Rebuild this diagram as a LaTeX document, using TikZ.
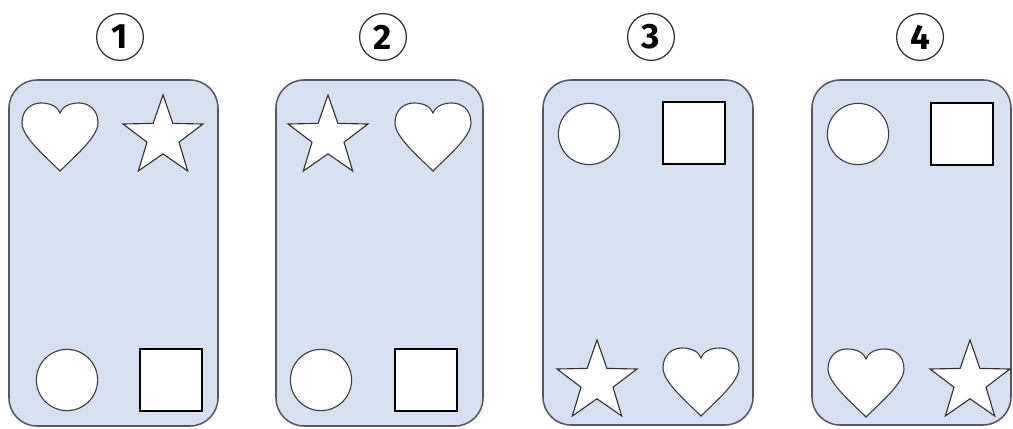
\documentclass[tikz,border=0pt]{standalone}
\usepackage{fontspec}
\setsansfont{Fira Sans}
\usetikzlibrary{shapes.geometric}
\definecolor{cardfill}{RGB}{214,224,240}
\definecolor{cardline}{RGB}{85,88,98}

\begin{document}
\begin{tikzpicture}[x=0.025cm, y=0.025cm, line width=0.8pt,
  card/.style={draw=cardline, fill=cardfill, line width=1.1pt, rounded corners=0.7cm},
  numcirc/.style={circle, draw=black!80, line width=0.9pt, minimum size=1.17cm, inner sep=0pt, font=\sffamily\bfseries\fontsize{25}{25}\selectfont},
  roundshape/.style={circle, draw=black!75, fill=white, minimum size=1.53cm, inner sep=0pt},
  squareshape/.style={rectangle, draw=black, fill=white, line width=1pt, minimum size=1.55cm, inner sep=0pt},
  starshape/.style={star, star points=5, star point ratio=2.5, draw=black!80, fill=white, minimum size=2.1cm, inner sep=0pt},
  heart/.pic={
    \draw[draw=black!75, fill=white] (0,-34) .. controls (-14,-20) and (-38,0) .. (-38,14)
      .. controls (-38,28) and (-28,34) .. (-19,34) .. controls (-9,34) and (-2,30) .. (0,24)
      .. controls (2,30) and (9,34) .. (19,34) .. controls (28,34) and (38,28) .. (38,14)
      .. controls (38,0) and (14,-20) .. (0,-34) -- cycle;
  }]
  \useasboundingbox (0,0) rectangle (1013,428);
  % cards
  \draw[card] (9,2) rectangle (218,348);
  \draw[card] (276,2) rectangle (483,348);
  \draw[card] (543,3) rectangle (753,348);
  \draw[card] (812,3) rectangle (1011,348);
  % numbers
  \node[numcirc] (n1) at (120,391) {1};
  \node[numcirc] (n2) at (383,391) {2};
  \node[numcirc] (n3) at (651,391) {3};
  \node[numcirc] (n4) at (920,391) {4};
  % card 1
  \pic (h1) at (60,291) {heart};
  \node[starshape] (s1) at (163,291) {};
  \node[roundshape] (c1) at (67,48) {};
  \node[squareshape] (q1) at (171,48) {};
  % card 2
  \node[starshape] (s2) at (328,291) {};
  \pic (h2) at (433,291) {heart};
  \node[roundshape] (c2) at (321,48) {};
  \node[squareshape] (q2) at (426,48) {};
  % card 3
  \node[roundshape] (c3) at (589,294) {};
  \node[squareshape] (q3) at (694,295) {};
  \node[starshape] (s3) at (597,46) {};
  \pic (h3) at (701,46) {heart};
  % card 4
  \node[roundshape] (c4) at (858,294) {};
  \node[squareshape] (q4) at (962,294) {};
  \pic (h4) at (866,45) {heart};
  \node[starshape] (s4) at (970,46) {};
\end{tikzpicture}
\end{document}
